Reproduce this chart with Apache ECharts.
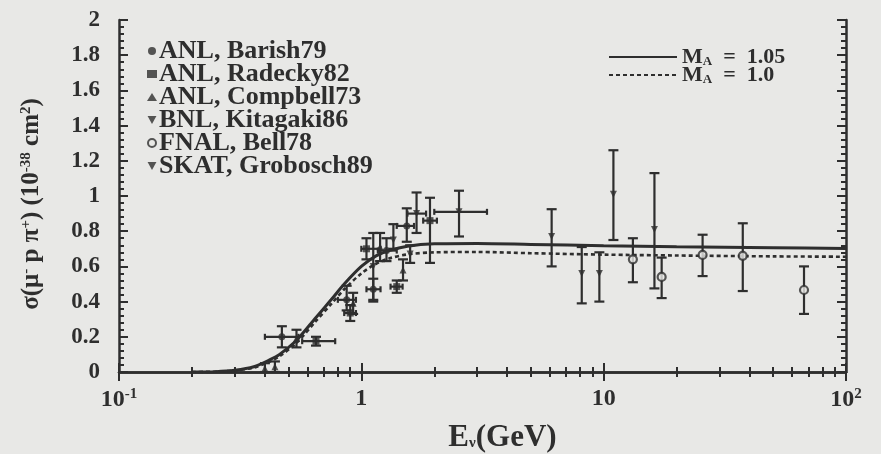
<!DOCTYPE html>
<html lang="en">
<head>
<meta charset="UTF-8">
<title>sigma mu p pi+</title>
<script src="https://cdn.jsdelivr.net/npm/echarts@6/dist/echarts.min.js"></script>
<style>
  html, body { margin: 0; padding: 0; background: #e8e8e6; }
  #main { width: 881px; height: 454px; }
</style>
</head>
<body>
<div id="main"></div>
<script type="text/javascript">
// ---- data ----
// points: [E, sigma, sigmaLow, sigmaHigh, Elow, Ehigh]  (E bounds optional)
var barish79 = [
  [0.47, 0.20, 0.14, 0.26, 0.40, 0.55],
  [0.87, 0.41, 0.35, 0.49, 0.80, 0.95],
  [1.12, 0.47, 0.41, 0.53, 1.05, 1.20],
  [1.27, 0.69, 0.63, 0.76, 1.17, 1.40],
  [1.54, 0.83, 0.74, 0.93, 1.40, 1.65]
];
var radecky82 = [
  [0.65, 0.175, 0.15, 0.20, 0.57, 0.78],
  [0.90, 0.335, 0.29, 0.38, 0.85, 0.95],
  [1.05, 0.70, 0.64, 0.76, 1.00, 1.20],
  [1.40, 0.485, 0.45, 0.52, 1.32, 1.48],
  [1.92, 0.86, 0.62, 0.99, 1.80, 2.05]
];
var campbell73 = [
  [0.40, 0.02, 0.0, 0.05],
  [0.44, 0.03, 0.0, 0.06],
  [0.54, 0.19, 0.14, 0.24],
  [0.925, 0.39, 0.33, 0.45],
  [1.195, 0.71, 0.63, 0.79],
  [1.486, 0.58, 0.52, 0.64]
];
var kitagaki86 = [
  [1.12, 0.60, 0.40, 0.79],
  [1.356, 0.75, 0.70, 0.84],
  [1.59, 0.67, 0.62, 0.72],
  [1.69, 0.90, 0.79, 1.02, 1.55, 1.85],
  [2.53, 0.91, 0.77, 1.03, 2.0, 3.3]
];
var bell78 = [
  [13.2, 0.64, 0.51, 0.76],
  [17.35, 0.54, 0.42, 0.65],
  [25.6, 0.665, 0.545, 0.78],
  [37.5, 0.66, 0.46, 0.845],
  [67.1, 0.466, 0.33, 0.60]
];
var grobosch89 = [
  [6.1, 0.77, 0.60, 0.925],
  [8.12, 0.56, 0.39, 0.71],
  [9.6, 0.56, 0.40, 0.68],
  [10.97, 1.01, 0.75, 1.26],
  [16.2, 0.81, 0.475, 1.13]
];

// model curves
var curveE      = [0.2, 0.25, 0.3, 0.36, 0.42, 0.46, 0.54, 0.65, 0.75, 0.85, 1.0, 1.15, 1.3, 1.55, 2.0, 3.0, 5, 10, 20, 50, 100];
var curveMA105  = [0, 0.002, 0.01, 0.03, 0.07, 0.10, 0.18, 0.31, 0.41, 0.50, 0.60, 0.66, 0.69, 0.715, 0.728, 0.73, 0.725, 0.718, 0.712, 0.706, 0.702];
var curveMA10   = [0, 0.002, 0.008, 0.025, 0.06, 0.09, 0.165, 0.29, 0.385, 0.47, 0.56, 0.615, 0.645, 0.668, 0.68, 0.682, 0.675, 0.667, 0.662, 0.657, 0.655];

var xTickLabels = ['10{sup|-1}', '1', '10', '10{sup|2}'];
var xTickValues = [0.1, 1, 10, 100];

var expNames = ['ANL, Barish79', 'ANL, Radecky82', 'ANL, Compbell73', 'BNL, Kitagaki86', 'FNAL, Bell78', 'SKAT, Grobosch89'];
var expData  = [barish79, radecky82, campbell73, kitagaki86, bell78, grobosch89];
var expSymbols = ['circle', 'rect', 'triangle', 'path://M0,0 L10,0 L5,9 Z', 'circle', 'path://M0,0 L10,0 L5,9 Z'];
var expSizes = [7, 7, 7, 7, 8, 7];
var expOpen  = [false, false, false, false, true, false];

var ink = '#2e2e2e';
var paper = '#e8e8e6';
var serif = '"Liberation Serif", "DejaVu Serif", serif';

function zip(xs, ys) {
  var out = [];
  for (var i = 0; i < xs.length; i++) out.push([xs[i], ys[i]]);
  return out;
}

// error bars drawn through the axis scales
function renderErr(params, api) {
  var e = api.value(0), lo = api.value(2), hi = api.value(3);
  var elo = api.value(4), ehi = api.value(5);
  var pLo = api.coord([e, lo]), pHi = api.coord([e, hi]), pC = api.coord([e, api.value(1)]);
  var cap = 5;
  var st = { stroke: ink, lineWidth: 2.2 };
  var kids = [
    { type: 'line', shape: { x1: pLo[0], y1: pLo[1], x2: pHi[0], y2: pHi[1] }, style: st },
    { type: 'line', shape: { x1: pLo[0] - cap, y1: pLo[1], x2: pLo[0] + cap, y2: pLo[1] }, style: st },
    { type: 'line', shape: { x1: pHi[0] - cap, y1: pHi[1], x2: pHi[0] + cap, y2: pHi[1] }, style: st }
  ];
  if (elo > 0 && ehi > 0) {
    var a = api.coord([elo, api.value(1)]), b = api.coord([ehi, api.value(1)]);
    kids.push({ type: 'line', shape: { x1: a[0], y1: pC[1], x2: b[0], y2: pC[1] }, style: st });
    kids.push({ type: 'line', shape: { x1: a[0], y1: pC[1] - 3, x2: a[0], y2: pC[1] + 3 }, style: st });
    kids.push({ type: 'line', shape: { x1: b[0], y1: pC[1] - 3, x2: b[0], y2: pC[1] + 3 }, style: st });
  }
  return { type: 'group', children: kids };
}

var series = [];
for (var i = 0; i < expData.length; i++) {
  var rows = expData[i].map(function (r) {
    return [r[0], r[1], r[2], r[3], r[4] || 0, r[5] || 0];
  });
  series.push({
    name: expNames[i] + ' err',
    type: 'custom',
    renderItem: renderErr,
    encode: { x: 0, y: 1 },
    data: rows,
    silent: true,
    z: 3
  });
  series.push({
    name: expNames[i],
    type: 'scatter',
    symbol: expSymbols[i],
    symbolSize: expSizes[i],
    itemStyle: { color: expOpen[i] ? paper : ink, borderColor: ink, borderWidth: expOpen[i] ? 2.2 : 0 },
    data: expData[i].map(function (r) { return [r[0], r[1]]; }),
    z: 5
  });
}
series.push({
  name: 'M_A = 1.05',
  type: 'line',
  smooth: 0.3,
  symbol: 'none',
  itemStyle: { color: ink },
  lineStyle: { color: ink, width: 3 },
  data: zip(curveE, curveMA105),
  z: 4
});
series.push({
  name: 'M_A = 1.0',
  type: 'line',
  smooth: 0.3,
  symbol: 'none',
  itemStyle: { color: ink },
  lineStyle: { color: ink, width: 2.6, type: [4, 3] },
  data: zip(curveE, curveMA10),
  z: 4
});

var supRich = {
  sup: { fontSize: 15, fontFamily: serif, fontWeight: 'bold', color: ink, verticalAlign: 'top', padding: [0, 0, 11, 0] },
  sub: { fontSize: 15, fontFamily: serif, fontWeight: 'bold', color: ink, padding: [12, 0, 0, 0] }
};

var chart = echarts.init(document.getElementById('main'));
var option = {
  backgroundColor: paper,
  animation: false,
  grid: { left: 119, right: 35, top: 20, bottom: 82, outerBoundsMode: 'none', containLabel: false },
  legend: [
    {
      data: expNames,
      orient: 'vertical',
      left: 142,
      top: 33,
      itemGap: -3,
      itemWidth: 10,
      itemHeight: 8,
      textStyle: { fontFamily: serif, fontSize: 26, fontWeight: 'bold', color: ink, lineHeight: 22, padding: [0, 0, 0, -3] }
    },
    {
      data: ['M_A = 1.05', 'M_A = 1.0'],
      orient: 'vertical',
      left: 603,
      top: 41,
      itemGap: -4,
      itemWidth: 68,
      itemHeight: 14,
      itemStyle: { opacity: 0 },
      formatter: function (n) { return n.replace('M_A', 'M{sub|A}').replace(' = ', '  =  '); },
      textStyle: {
        fontFamily: serif, fontSize: 22, fontWeight: 'bold', color: ink, lineHeight: 19,
        rich: { sub: { fontSize: 13, fontFamily: serif, fontWeight: 'bold', color: ink, padding: [9, 0, 0, 0] } }
      }
    }
  ],
  xAxis: [
    {
      type: 'log', logBase: 10, min: 0.1, max: 100,
      name: 'E{sub|ν}(GeV)',
      nameLocation: 'middle',
      nameGap: 50,
      nameTextStyle: { fontFamily: serif, fontSize: 31, fontWeight: 'bold', color: ink, padding: [0, 0, 0, 40], rich: supRich },
      axisLine: { lineStyle: { color: ink, width: 2.5 } },
      axisTick: { inside: true, length: 9, lineStyle: { color: ink, width: 2 } },
      minorTick: { show: true, splitNumber: 9, length: 5, lineStyle: { color: ink, width: 2 } },
      splitLine: { show: false },
      axisLabel: {
        margin: 15,
        fontFamily: serif, fontSize: 24, fontWeight: 'bold', color: ink,
        formatter: function (v) {
          for (var k = 0; k < xTickValues.length; k++) {
            if (Math.abs(Math.log10(v) - Math.log10(xTickValues[k])) < 1e-6) return xTickLabels[k];
          }
          return '';
        },
        rich: supRich
      }
    },
    {
      type: 'log', logBase: 10, min: 0.1, max: 100, position: 'top',
      axisLine: { lineStyle: { color: ink, width: 2.5 } },
      axisTick: { inside: true, length: 9, lineStyle: { color: ink, width: 2 } },
      minorTick: { show: true, splitNumber: 9, length: 5, lineStyle: { color: ink, width: 2 } },
      splitLine: { show: false },
      axisLabel: { show: false }
    }
  ],
  yAxis: [
    {
      type: 'value', min: 0, max: 2, interval: 0.2,
      name: 'σ(μ{sup|-} p π{sup|+}) (10{sup|-38} cm{sup|2})',
      nameLocation: 'middle',
      nameRotate: 90,
      nameGap: 74,
      nameTextStyle: { fontFamily: serif, fontSize: 25, fontWeight: 'bold', color: ink, padding: [0, 16, 0, 0], rich: supRich },
      axisLine: { lineStyle: { color: ink, width: 2.5 } },
      axisTick: { inside: true, length: 9, lineStyle: { color: ink, width: 2 } },
      minorTick: { show: true, splitNumber: 5, length: 5, lineStyle: { color: ink, width: 2 } },
      splitLine: { show: false },
      axisLabel: { margin: 19, fontFamily: serif, fontSize: 23, fontWeight: 'bold', color: ink }
    },
    {
      type: 'value', min: 0, max: 2, interval: 0.2, position: 'right',
      axisLine: { lineStyle: { color: ink, width: 2.5 } },
      axisTick: { inside: true, length: 9, lineStyle: { color: ink, width: 2 } },
      minorTick: { show: true, splitNumber: 5, length: 5, lineStyle: { color: ink, width: 2 } },
      splitLine: { show: false },
      axisLabel: { show: false }
    }
  ],
  series: series
};
chart.setOption(option);
</script>
</body>
</html>
